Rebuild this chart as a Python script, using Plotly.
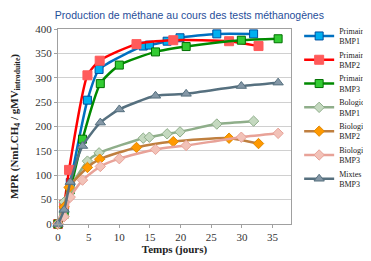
import plotly.graph_objects as go

# Data (jours, NmL CH4 / gMV)
x_bmp1 = [0, 1, 2, 4.8, 6.7, 13.9, 14.9, 17.8, 19.9, 25.9, 31.9]
prim_bmp1 = [0, 30, 85, 254, 317, 365, 367, 375, 382, 390, 390]
bio_bmp1 = [0, 45, 75, 129, 146, 176, 178, 185, 189, 205, 211]

x_bmp2 = [0, 1, 1.8, 4.8, 6.8, 12.8, 18.8, 27.9, 32.7]
prim_bmp2 = [0, 40, 111, 305, 335, 369, 377, 375, 365]
bio_bmp2 = [0, 35, 75, 116, 133, 157, 169, 176, 165]

x_bmp3 = [0, 1, 2, 4, 6.9, 10, 15.9, 20.9, 29.9, 35.9]
prim_bmp3 = [0, 20, 70, 174, 288, 326, 353, 364, 377, 380]
bio_bmp3 = [0, 15, 55, 90, 118, 134, 153, 161, 178, 186]
mix_bmp3 = [0, 29, 86, 160, 208, 235, 263, 267, 283, 290]

names = ["Primaires<br>BMP1", "Primaires<br>BMP2", "Primaires<br>BMP3",
         "Bologique<br>BMP1", "Biologique<br>BMP2", "Biologique<br>BMP3",
         "Mixtes<br>BMP3"]

series = [
    (x_bmp1, prim_bmp1, "#0070C0", "#00B0F0", "#0050A0", "square", 8),
    (x_bmp2, prim_bmp2, "#FF0000", "#FF5B5B", "#FF5B5B", "square", 9),
    (x_bmp3, prim_bmp3, "#008A00", "#33CC33", "#007000", "square", 8),
    (x_bmp1, bio_bmp1, "#8FAE8A", "#C5D9C0", "#8FAE8A", "diamond", 8),
    (x_bmp2, bio_bmp2, "#BF7F3F", "#FF9900", "#E08800", "diamond", 8),
    (x_bmp3, bio_bmp3, "#E8A298", "#F2C2B8", "#E8A298", "diamond", 8),
    (x_bmp3, mix_bmp3, "#56707F", "#8497A6", "#56707F", "triangle-up", 9),
]

fig = go.Figure()
for (xs, ys, lc, mf, ml, sym, sz), nm in zip(series, names):
    fig.add_trace(go.Scatter(
        x=xs, y=ys, name=nm, mode="lines+markers",
        line=dict(color=lc, width=2.5, shape="spline", smoothing=0.6),
        marker=dict(symbol=sym, size=sz, color=mf, line=dict(color=ml, width=1)),
        cliponaxis=False,
    ))

serif = "Liberation Serif, DejaVu Serif, serif"
fig.update_layout(
    width=371, height=253,
    margin=dict(l=50, r=88, t=21, b=37, autoexpand=False),
    paper_bgcolor="white", plot_bgcolor="white",
    title=dict(text="Production de méthane au cours des tests méthanogènes",
               x=0.489, xanchor="center", y=0.97, yanchor="middle",
               font=dict(family="Liberation Sans, Arial, sans-serif", size=10.5, color="#1F4E9A")),
    font=dict(family=serif, size=11, color="#333333"),
    showlegend=True,
    legend=dict(x=1.035, xanchor="left", y=1.051, yanchor="top",
                font=dict(family=serif, size=8, color="#222222"),
                itemwidth=30, tracegroupgap=0, bgcolor="rgba(0,0,0,0)",
                maxheight=245),
    xaxis=dict(range=[0, 38], tickvals=[0, 5, 10, 15, 20, 25, 30, 35],
               showgrid=False, zeroline=False, automargin=False,
               showline=True, linecolor="#A0A0A0", linewidth=1, mirror=True,
               ticks="outside", ticklen=3, tickcolor="#A0A0A0",
               tickfont=dict(family=serif, size=11, color="#333333"),
               title=dict(text="<b>Temps (jours)</b>", standoff=2,
                          font=dict(family=serif, size=11, color="#222222"))),
    yaxis=dict(range=[0, 400], tickvals=[0, 50, 100, 150, 200, 250, 300, 350, 400],
               showgrid=True, gridcolor="#D0D0D0", zeroline=False, automargin=False,
               showline=True, linecolor="#A0A0A0", linewidth=1, mirror=True,
               ticks="outside", ticklen=3, tickcolor="#A0A0A0",
               tickfont=dict(family=serif, size=11, color="#333333"),
               title=dict(text="<b>MPR (NmLCH<sub>4</sub> / gMV<sub>introduite</sub>)</b>",
                          standoff=16,
                          font=dict(family=serif, size=11, color="#222222"))),
)

fig.write_html("out.html")
